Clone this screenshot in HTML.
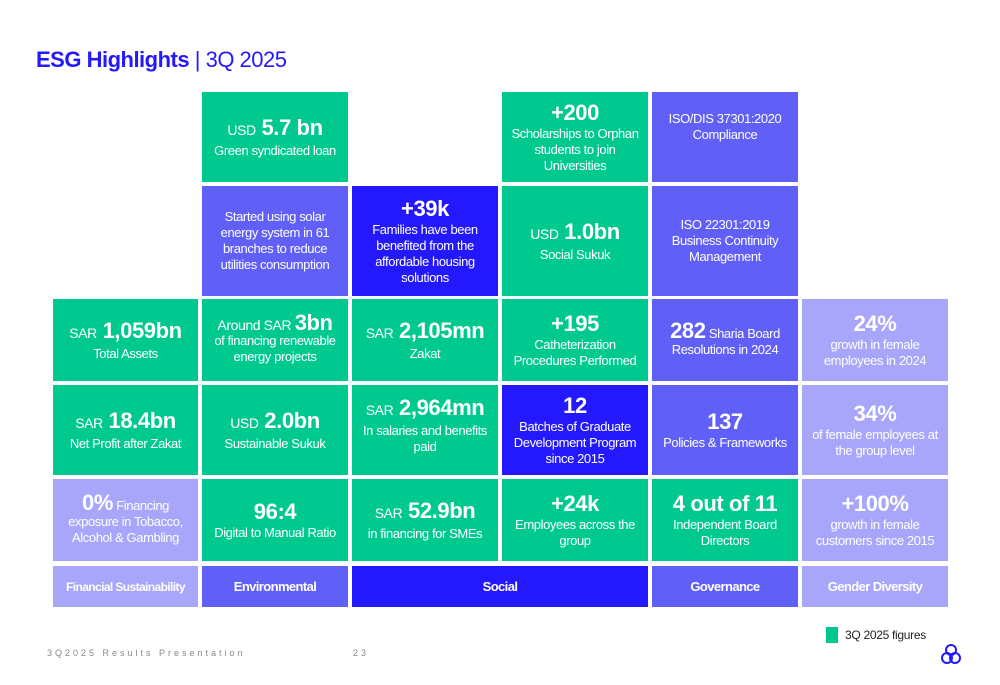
<!DOCTYPE html>
<html><head><meta charset="utf-8"><style>
body{margin:0;width:1000px;height:685px;background:#fff;font-family:"Liberation Sans",sans-serif;position:relative;overflow:hidden}
.t{position:absolute;display:flex;flex-direction:column;align-items:center;justify-content:center;text-align:center;color:#fff;font-size:13px;line-height:16px;box-sizing:border-box;padding:0 4px;letter-spacing:-0.4px}
.g{background:#00C98F}.p{background:#6060F8}.b{background:#2418FF}.l{background:#A8A6FA}
.big{font-size:22px;font-weight:bold;line-height:26px}
.s{font-size:14px;font-weight:normal}
.h{font-weight:bold;font-size:13px;white-space:nowrap;letter-spacing:-0.6px}
</style></head><body>
<div style="position:absolute;left:36px;top:47px;font-size:22px;color:#2418FF;letter-spacing:-0.5px"><b>ESG Highlights</b> <span style="font-weight:normal">| 3Q 2025</span></div>

<div class="t g" style="left:202px;top:92px;width:146px;height:90px"><div class="big"><span class="s">USD</span> 5.7 bn</div><div>Green syndicated loan</div></div>
<div class="t g" style="left:502px;top:92px;width:146px;height:90px"><div class="big">+200</div><div>Scholarships to Orphan students to join Universities</div></div>
<div class="t p" style="left:652px;top:92px;width:146px;height:90px;padding-bottom:20px"><div>ISO/DIS 37301:2020<br>Compliance</div></div>

<div class="t p" style="left:202px;top:186px;width:146px;height:110px"><div>Started using solar energy system in 61 branches to reduce utilities consumption</div></div>
<div class="t b" style="left:352px;top:186px;width:146px;height:110px"><div class="big">+39k</div><div>Families have been benefited from the affordable housing solutions</div></div>
<div class="t g" style="left:502px;top:186px;width:146px;height:110px"><div class="big"><span class="s">USD</span> 1.0bn</div><div>Social Sukuk</div></div>
<div class="t p" style="left:652px;top:186px;width:146px;height:110px"><div>ISO 22301:2019<br>Business Continuity<br>Management</div></div>

<div class="t g" style="left:53px;top:299px;width:145px;height:82px"><div class="big"><span class="s">SAR</span> 1,059bn</div><div>Total Assets</div></div>
<div class="t g" style="left:202px;top:299px;width:146px;height:82px"><div style="font-size:14px">Around SAR <b style="font-size:22px">3bn</b></div><div>of financing renewable energy projects</div></div>
<div class="t g" style="left:352px;top:299px;width:146px;height:82px"><div class="big"><span class="s">SAR</span> 2,105mn</div><div>Zakat</div></div>
<div class="t g" style="left:502px;top:299px;width:146px;height:82px"><div class="big">+195</div><div>Catheterization Procedures Performed</div></div>
<div class="t p" style="left:652px;top:299px;width:146px;height:82px"><div><b style="font-size:22px">282</b> Sharia Board<br>Resolutions in 2024</div></div>
<div class="t l" style="left:802px;top:299px;width:146px;height:82px"><div class="big">24%</div><div>growth in female employees in 2024</div></div>

<div class="t g" style="left:53px;top:385px;width:145px;height:90px"><div class="big"><span class="s">SAR</span> 18.4bn</div><div>Net Profit after Zakat</div></div>
<div class="t g" style="left:202px;top:385px;width:146px;height:90px"><div class="big"><span class="s">USD</span> 2.0bn</div><div>Sustainable Sukuk</div></div>
<div class="t g" style="left:352px;top:385px;width:146px;height:90px;padding-bottom:10px"><div class="big"><span class="s">SAR</span> 2,964mn</div><div>In salaries and benefits paid</div></div>
<div class="t b" style="left:502px;top:385px;width:146px;height:90px"><div class="big">12</div><div>Batches of Graduate Development Program since 2015</div></div>
<div class="t p" style="left:652px;top:385px;width:146px;height:90px"><div class="big">137</div><div>Policies &amp; Frameworks</div></div>
<div class="t l" style="left:802px;top:385px;width:146px;height:90px"><div class="big">34%</div><div>of female employees at the group level</div></div>

<div class="t l" style="left:53px;top:479px;width:145px;height:82px"><div><b style="font-size:22px">0%</b> Financing<br>exposure in Tobacco, Alcohol &amp; Gambling</div></div>
<div class="t g" style="left:202px;top:479px;width:146px;height:82px"><div class="big">96:4</div><div>Digital to Manual Ratio</div></div>
<div class="t g" style="left:352px;top:479px;width:146px;height:82px"><div class="big"><span class="s">SAR</span> 52.9bn</div><div>in financing for SMEs</div></div>
<div class="t g" style="left:502px;top:479px;width:146px;height:82px"><div class="big">+24k</div><div>Employees across the group</div></div>
<div class="t g" style="left:652px;top:479px;width:146px;height:82px"><div class="big">4 out of 11</div><div>Independent Board Directors</div></div>
<div class="t l" style="left:802px;top:479px;width:146px;height:82px"><div class="big">+100%</div><div>growth in female customers since 2015</div></div>

<div class="t l h" style="left:53px;top:566px;width:145px;height:41px;font-size:12px;padding:0 2px">Financial Sustainability</div>
<div class="t p h" style="left:202px;top:566px;width:146px;height:41px">Environmental</div>
<div class="t b h" style="left:352px;top:566px;width:296px;height:41px">Social</div>
<div class="t p h" style="left:652px;top:566px;width:146px;height:41px">Governance</div>
<div class="t l h" style="left:802px;top:566px;width:146px;height:41px">Gender Diversity</div>

<div style="position:absolute;left:826px;top:627px;width:12px;height:16px;background:#00C98F"></div>
<div style="position:absolute;left:845px;top:628px;font-size:12px;color:#222;letter-spacing:-0.3px">3Q 2025 figures</div>
<div style="position:absolute;left:47px;top:648px;font-size:9px;color:#888;letter-spacing:3px">3Q2025 Results Presentation</div>
<div style="position:absolute;left:353px;top:648px;font-size:9px;color:#888;letter-spacing:3px">23</div>
<svg style="position:absolute;left:940px;top:642px" width="22" height="24" viewBox="0 0 22 24"><g fill="none" stroke="#2418FF" stroke-width="2"><circle cx="11" cy="8" r="5"/><circle cx="7" cy="16" r="5"/><circle cx="15" cy="16" r="5"/></g></svg>
</body></html>
